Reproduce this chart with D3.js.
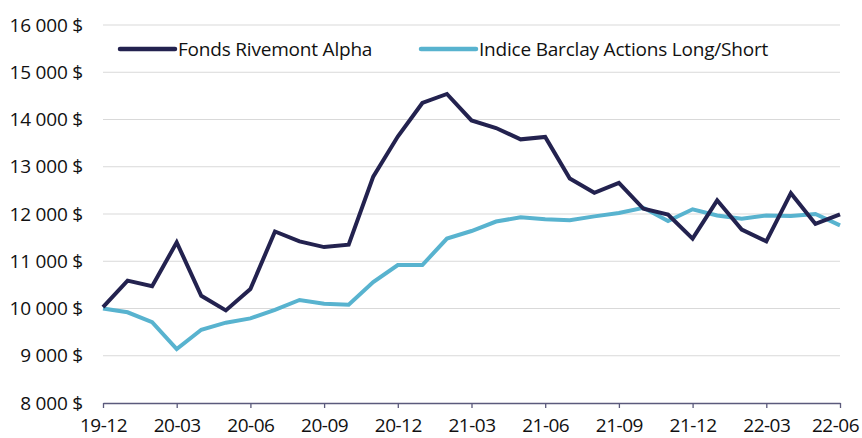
<!DOCTYPE html>
<html>
<head>
<meta charset="utf-8">
<script src="https://cdn.jsdelivr.net/npm/d3@7"></script>
<style>
  body { margin: 0; background: #fff; }
  text { font-family: "Open Sans", "Liberation Sans", sans-serif; fill: #111; }
</style>
</head>
<body>
<div id="chart"></div>
<script>
// monthly values, 19-12 .. 22-06
var months = ["19-12","20-01","20-02","20-03","20-04","20-05","20-06","20-07","20-08","20-09","20-10","20-11","20-12",
  "21-01","21-02","21-03","21-04","21-05","21-06","21-07","21-08","21-09","21-10","21-11","21-12",
  "22-01","22-02","22-03","22-04","22-05","22-06"];

var fondsRivemont = [10030, 10590, 10470, 11400, 10270, 9960, 10410, 11630, 11420, 11300, 11350, 12790, 13640,
  14350, 14540, 13980, 13820, 13580, 13630, 12750, 12450, 12660, 12110, 11990, 11480,
  12290, 11670, 11420, 12440, 11790, 11990];

var indiceBarclay = [10000, 9920, 9710, 9140, 9550, 9700, 9790, 9970, 10180, 10100, 10080, 10560, 10920,
  10920, 11480, 11640, 11840, 11930, 11890, 11870, 11950, 12020, 12130, 11850, 12100,
  11970, 11900, 11970, 11960, 12000, 11760];

var seriesNames = ["Fonds Rivemont Alpha", "Indice Barclay Actions Long/Short"];
var seriesColors = ["#23224f", "#58b3cf"];
var yTicks = [8000, 9000, 10000, 11000, 12000, 13000, 14000, 15000, 16000];
var xTickLabels = ["19-12","20-03","20-06","20-09","20-12","21-03","21-06","21-09","21-12","22-03","22-06"];

var width = 862, height = 438;
var margin = {top: 25, right: 22, bottom: 35, left: 103};
var fontSize = "19px";

var svg = d3.select("#chart").append("svg")
    .attr("width", width).attr("height", height);

var x = d3.scalePoint()
    .domain(months)
    .range([margin.left, width - margin.right]);

var y = d3.scaleLinear()
    .domain([8000, 16000])
    .range([height - margin.bottom, margin.top]);

function fmt(v) {
  return d3.format(",")(v).replace(",", " ") + " $";
}

// gridlines
svg.append("g")
  .selectAll("line")
  .data(yTicks.slice(1))
  .enter()
  .append("line")
  .attr("x1", margin.left)
  .attr("x2", width - margin.right)
  .attr("y1", function(d) { return y(d); })
  .attr("y2", function(d) { return y(d); })
  .attr("stroke", "#d9d9d9")
  .attr("stroke-width", 1.2);

// y labels
svg.append("g")
  .selectAll("text")
  .data(yTicks)
  .enter()
  .append("text")
  .attr("x", 83)
  .attr("y", function(d) { return y(d); })
  .attr("dy", "0.35em")
  .attr("text-anchor", "end")
  .style("font-size", fontSize)
  .style("letter-spacing", "-0.2px")
  .text(fmt);

// x axis
var xAxis = d3.axisBottom(x)
    .tickValues(xTickLabels)
    .tickSize(5)
    .tickSizeOuter(0);

var gx = svg.append("g")
  .attr("transform", "translate(0," + y(8000) + ")")
  .call(xAxis);
gx.select(".domain").attr("stroke", "#5b5a7c").attr("stroke-width", 1.3);
gx.selectAll(".tick line").attr("stroke", "#5b5a7c").attr("stroke-width", 1.3);
gx.selectAll(".tick text")
  .attr("y", 16)
  .attr("x", function(d, i) { return i == xTickLabels.length - 1 ? -5 : 0; })
  .style("font-size", fontSize)
  .style("font-family", "'Open Sans', sans-serif")
  .style("letter-spacing", "-0.5px")
  .attr("fill", "#111");

// lines
var line = d3.line()
    .x(function(d, i) { return x(months[i]); })
    .y(function(d) { return y(d); });

var data = [indiceBarclay, fondsRivemont];
var colors = [seriesColors[1], seriesColors[0]];

svg.append("g")
  .selectAll("path")
  .data(data)
  .enter()
  .append("path")
  .attr("d", line)
  .attr("fill", "none")
  .attr("stroke", function(d, i) { return colors[i]; })
  .attr("stroke-width", 4)
  .attr("stroke-linejoin", "miter");

// legend
var legendX = [120, 421];
var leg = svg.append("g")
  .selectAll("g")
  .data(seriesNames)
  .enter()
  .append("g")
  .attr("transform", function(d, i) { return "translate(" + legendX[i] + ",49)"; });

leg.append("line")
  .attr("x1", 0).attr("x2", 55)
  .attr("stroke", function(d, i) { return seriesColors[i]; })
  .attr("stroke-width", 4.5)
  .attr("stroke-linecap", "round");

leg.append("text")
  .attr("x", 58)
  .attr("dy", "0.35em")
  .style("font-size", fontSize)
  .style("letter-spacing", "-0.2px")
  .text(function(d) { return d; });
</script>
</body>
</html>
